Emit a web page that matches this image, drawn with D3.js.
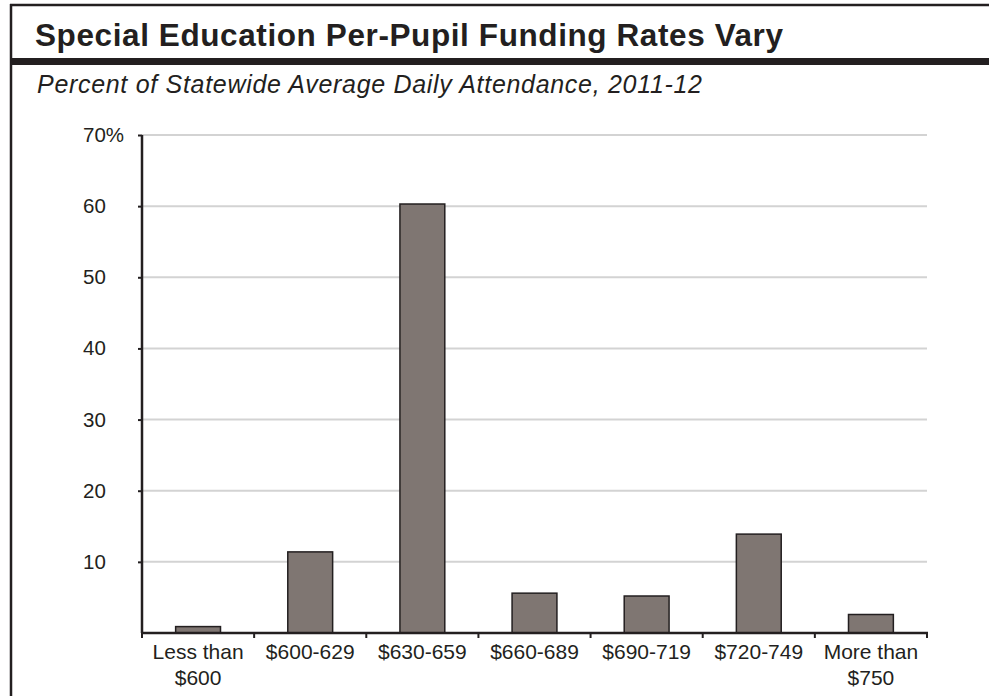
<!DOCTYPE html>
<html>
<head>
<meta charset="utf-8">
<script src="https://cdn.jsdelivr.net/npm/d3@7"></script>
<style>
  body { margin: 0; background: #fff; }
  svg { display: block; font-family: 'Liberation Sans', Arial, sans-serif; }
</style>
</head>
<body>
<svg id="canvas"></svg>
<script>
const categories = ['Less than\n$600', '$600-629', '$630-659', '$660-689', '$690-719', '$720-749', 'More than\n$750']
const values = [0.9, 11.4, 60.3, 5.6, 5.2, 13.9, 2.6]
const yTicks = [10, 20, 30, 40, 50, 60, 70]

const w = 989
const h = 696
const canvas = d3.select('#canvas').attr('width', w).attr('height', h)

const x = d3.scaleBand().domain(categories).range([142, 927]).paddingInner(0.6).paddingOuter(0.3)
const y = d3.scaleLinear().domain([0, 70]).range([633, 135])

// frame
canvas.append('line').attr('x1', 11).attr('x2', 11).attr('y1', 4).attr('y2', h)
      .attr('stroke', '#231f20').attr('stroke-width', 2.5)
canvas.append('line').attr('x1', 10).attr('x2', w).attr('y1', 5).attr('y2', 5)
      .attr('stroke', '#231f20').attr('stroke-width', 2.5)
canvas.append('rect').attr('x', 10).attr('y', 58).attr('width', w - 10).attr('height', 7)
      .attr('fill', '#231f20')

// titles, fitted to the width they take in the original
canvas.append('text').attr('x', 35).attr('y', 46)
      .attr('font-size', 31.5).attr('font-weight', 'bold').attr('fill', '#231f20')
      .attr('textLength', 748).attr('lengthAdjust', 'spacing')
      .text('Special Education Per-Pupil Funding Rates Vary')
canvas.append('text').attr('x', 37).attr('y', 93)
      .attr('font-size', 25).attr('font-style', 'italic').attr('fill', '#231f20')
      .attr('textLength', 665).attr('lengthAdjust', 'spacing')
      .text('Percent of Statewide Average Daily Attendance, 2011-12')

// gridlines
canvas.append('g').selectAll('line').data(yTicks).enter().append('line')
      .attr('x1', 142).attr('x2', 927)
      .attr('y1', d => y(d)).attr('y2', d => y(d))
      .attr('stroke', '#d3d3d3').attr('stroke-width', 2)

// bars
canvas.append('g').selectAll('rect').data(values).enter().append('rect')
      .attr('x', (d, i) => x(categories[i]))
      .attr('y', d => y(d))
      .attr('width', x.bandwidth())
      .attr('height', d => y(0) - y(d))
      .attr('fill', '#7f7672')
      .attr('stroke', '#231f20').attr('stroke-width', 1.5)

// y axis
const yAxis = d3.axisLeft(y).tickValues(yTicks).tickSize(4).tickFormat(d => d === 70 ? '70%' : d)
const yg = canvas.append('g').attr('transform', 'translate(142,0)').call(yAxis)
yg.select('.domain').attr('d', `M0,${y(70)}V${y(0)}`).attr('stroke', '#231f20').attr('stroke-width', 2.5)
yg.selectAll('.tick line').attr('stroke', '#231f20').attr('stroke-width', 2)
yg.selectAll('.tick text').attr('x', -59).attr('text-anchor', 'start')
  .attr('font-size', 20.5).attr('fill', '#231f20').attr('font-family', null)

// x axis
const xg = canvas.append('g').attr('transform', `translate(0,${y(0)})`)
xg.append('line').attr('x1', 141).attr('x2', 928).attr('stroke', '#231f20').attr('stroke-width', 2.5)
xg.selectAll('.bound').data(d3.range(categories.length + 1)).enter().append('line')
  .attr('x1', i => 142 + i * x.step()).attr('x2', i => 142 + i * x.step())
  .attr('y1', 0).attr('y2', 5)
  .attr('stroke', '#231f20').attr('stroke-width', 2)
const labels = xg.selectAll('.lbl').data(categories).enter().append('text')
  .attr('text-anchor', 'middle').attr('font-size', 21).attr('fill', '#231f20')
  .attr('transform', d => `translate(${x(d) + x.bandwidth() / 2},0)`)
labels.selectAll('tspan').data(d => d.split('\n')).enter().append('tspan')
  .attr('x', 0).attr('y', (d, i) => 26 + i * 26).text(d => d)
</script>
</body>
</html>
